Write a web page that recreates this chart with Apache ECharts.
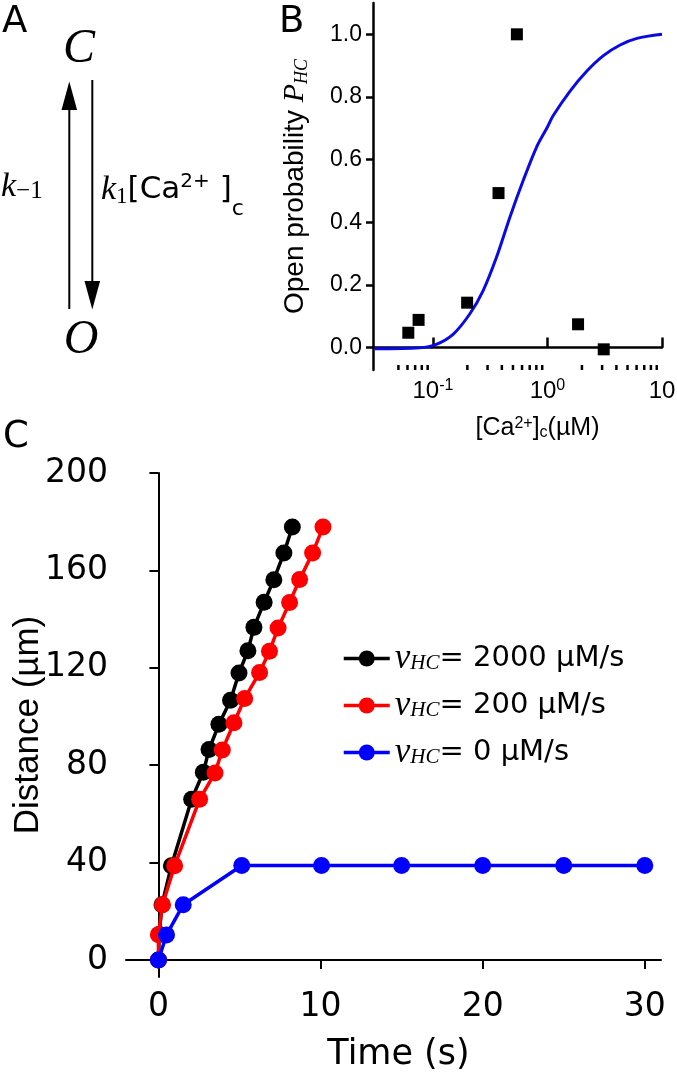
<!DOCTYPE html>
<html>
<head>
<meta charset="utf-8">
<script src="https://cdn.jsdelivr.net/npm/echarts@6/dist/echarts.min.js"></script>
<style>
  html, body { margin: 0; padding: 0; background: #fff; }
  #chart { width: 677px; height: 1081px; }
</style>
</head>
<body>
<div id="chart"></div>
<script>
// ---- panel B: open probability vs [Ca2+]c ----
var caConc   = [0.061, 0.075, 0.199, 0.374, 0.541, 1.85, 3.10];
var openProb = [0.047, 0.088, 0.143, 0.493, 1.0, 0.074, -0.006];
// fitted curve
var fitCa = [0.0309, 0.0765, 0.107, 0.150, 0.209, 0.274, 0.359, 0.470, 0.614, 0.804, 1.0, 1.12, 1.57, 2.20, 3.08, 4.31, 6.04, 10];
var fitP  = [-0.004, -0.001, 0.010, 0.042, 0.106, 0.181, 0.288, 0.416, 0.533, 0.640, 0.704, 0.740, 0.818, 0.882, 0.932, 0.966, 0.987, 1.0];
var caMinor = [0.05, 0.06, 0.07, 0.08, 0.09, 0.2, 0.3, 0.4, 0.5, 0.6, 0.7, 0.8, 0.9, 2, 3, 4, 5, 6, 7, 8, 9];
var probTicks = [0, 0.2, 0.4, 0.6, 0.8, 1.0];
var probMin = -0.072, probMax = 1.1;

// ---- panel C: distance vs time ----
var time2000 = [0, 0.05, 0.22, 0.80, 2.05, 2.77, 3.12, 3.73, 4.45, 4.97, 5.52, 5.89, 6.52, 7.12, 7.74, 8.26];
var dist2000 = [0, 10.5, 22.7, 38.7, 66.0, 77.1, 86.4, 96.8, 106.7, 117.9, 127.0, 136.6, 146.9, 156.2, 167.1, 177.8];
var time200 = [0, 0, 0.25, 1.0, 2.54, 3.49, 3.94, 4.66, 5.32, 6.24, 6.85, 7.38, 8.09, 8.71, 9.51, 10.15];
var dist200 = [0, 10.4, 22.7, 38.7, 66.0, 76.8, 86.2, 97.4, 107.4, 118.1, 126.8, 136.3, 146.8, 156.3, 167.1, 177.8];
var time0 = [0, 0.5, 1.53, 5.14, 10.06, 15, 20, 25, 30];
var dist0 = [0, 10.3, 22.7, 38.8, 38.8, 38.8, 38.8, 38.8, 38.8];
var timeTicks = [0, 10, 20, 30];
var distTicks = [0, 40, 80, 120, 160, 200];
var legendText = {
  v2000: '{v|v}{s|HC}{t|= 2000 µM/s}',
  v200: '{v|v}{s|HC}{t|= 200 µM/s}',
  v0: '{v|v}{s|HC}{t|= 0 µM/s}'
};

var SANS = 'Liberation Sans';
var WIDE = 'DejaVu Sans';
var SERIF = 'Liberation Serif';

function pairs(xs, ys) {
  return xs.map(function (x, i) { return [x, ys[i]]; });
}

function caLabel(v) {
  if (Math.abs(v - 0.1) < 1e-6) return '{b|10}{s|-1}';
  if (Math.abs(v - 1) < 1e-6) return '{b|10}{s|0}';
  if (Math.abs(v - 10) < 1e-4) return '{b|10}';
  return '';
}

function dotSeries(name, color, xs, ys, idx) {
  return {
    name: name,
    type: 'line',
    xAxisIndex: 1,
    yAxisIndex: 1,
    data: pairs(xs, ys),
    symbol: 'circle',
    symbolSize: 17,
    showAllSymbol: true,
    color: color,
    lineStyle: { color: color, width: 3.5 },
    itemStyle: { color: color },
    z: 2 + idx
  };
}

var chart = echarts.init(document.getElementById('chart'));

var option = {
  animation: false,
  backgroundColor: '#fff',
  grid: [
    { left: 373, top: 3, right: 15, bottom: 711, outerBoundsMode: 'none', containLabel: false },
    { left: 126, top: 473, right: 16, bottom: 104, outerBoundsMode: 'none', containLabel: false }
  ],
  xAxis: [
    {
      type: 'log',
      gridIndex: 0,
      logBase: 10,
      min: 0.03,
      max: 10,
      name: '[Ca{sup|2+}]{sub|c}(µM)',
      nameLocation: 'middle',
      nameGap: 46,
      nameMoveOverlap: false,
      nameTextStyle: {
        color: '#000', fontFamily: SANS, fontSize: 25, padding: [0, 0, 0, 40],
        rich: {
          sup: { fontFamily: SANS, fontSize: 16, lineHeight: 14, verticalAlign: 'top' },
          sub: { fontFamily: SANS, fontSize: 16, lineHeight: 14, verticalAlign: 'bottom' }
        }
      },
      axisLine: { lineStyle: { color: '#000', width: 2.5 } },
      axisTick: { inside: true, length: 10, lineStyle: { color: '#000', width: 2.5 } },
      splitLine: { show: false },
      axisLabel: {
        showMinLabel: false,
        margin: 8,
        color: '#000',
        fontFamily: SANS,
        formatter: caLabel,
        rich: {
          b: { fontFamily: SANS, fontSize: 24, lineHeight: 26 },
          s: { fontFamily: SANS, fontSize: 16, lineHeight: 14, verticalAlign: 'top' }
        }
      }
    },
    {
      type: 'value',
      gridIndex: 1,
      min: -2,
      max: 31,
      name: 'Time (s)',
      nameLocation: 'middle',
      nameGap: 60,
      nameMoveOverlap: false,
      nameTextStyle: { color: '#000', fontFamily: WIDE, fontSize: 35, padding: [0, 0, 0, 10] },
      axisLine: { lineStyle: { color: '#000', width: 2 } },
      axisTick: { length: 9, lineStyle: { color: '#000', width: 2 }, customValues: timeTicks },
      axisLabel: { color: '#000', fontFamily: WIDE, fontSize: 33, margin: 14, customValues: timeTicks },
      splitLine: { show: false }
    }
  ],
  yAxis: [
    {
      type: 'value',
      gridIndex: 0,
      min: probMin,
      max: probMax,
      name: 'Open probability {p|P}{s|HC}',
      nameLocation: 'middle',
      nameGap: 62,
      nameMoveOverlap: false,
      nameTextStyle: {
        color: '#000', fontFamily: SANS, fontSize: 28,
        rich: {
          p: { fontFamily: SERIF, fontStyle: 'italic', fontSize: 30, lineHeight: 32 },
          s: { fontFamily: SERIF, fontStyle: 'italic', fontSize: 18, lineHeight: 14, verticalAlign: 'bottom' }
        }
      },
      axisLine: { lineStyle: { color: '#000', width: 2.5 } },
      axisTick: { length: 7, lineStyle: { color: '#000', width: 2.5 }, customValues: probTicks },
      axisLabel: {
        color: '#000', fontFamily: SANS, fontSize: 23, margin: 11, customValues: probTicks,
        formatter: function (v) { return v.toFixed(1); }
      },
      splitLine: { show: false }
    },
    {
      type: 'value',
      gridIndex: 1,
      min: -7,
      max: 200,
      name: 'Distance (µm)',
      nameLocation: 'middle',
      nameGap: 80,
      nameMoveOverlap: false,
      nameTextStyle: { color: '#000', fontFamily: SANS, fontSize: 35 },
      axisLine: { lineStyle: { color: '#000', width: 2 } },
      axisTick: { length: 9, lineStyle: { color: '#000', width: 2 }, customValues: distTicks },
      axisLabel: { color: '#000', fontFamily: WIDE, fontSize: 33, margin: 18, customValues: distTicks },
      splitLine: { show: false }
    }
  ],
  legend: {
    data: ['v2000', 'v200', 'v0'],
    orient: 'vertical',
    left: 337,
    top: 636,
    itemWidth: 46,
    itemHeight: 20,
    itemGap: 12,
    lineStyle: { width: 3.5 },
    formatter: function (name) { return legendText[name]; },
    textStyle: {
      color: '#000',
      rich: {
        v: { fontFamily: SERIF, fontStyle: 'italic', fontSize: 35, lineHeight: 30 },
        s: { fontFamily: SERIF, fontStyle: 'italic', fontSize: 21, lineHeight: 14, verticalAlign: 'bottom' },
        t: { fontFamily: WIDE, fontSize: 29, lineHeight: 30 }
      }
    }
  },
  series: [
    {
      name: 'fit',
      type: 'line',
      xAxisIndex: 0,
      yAxisIndex: 0,
      data: pairs(fitCa, fitP),
      smooth: 0.3,
      symbol: 'none',
      lineStyle: { color: '#0a0ae6', width: 3 },
      z: 2
    },
    {
      name: 'measured',
      type: 'scatter',
      xAxisIndex: 0,
      yAxisIndex: 0,
      data: pairs(caConc, openProb),
      symbol: 'rect',
      symbolSize: 12,
      itemStyle: { color: '#000', opacity: 1 },
      z: 3
    },
    {
      name: 'minorTicks',
      type: 'custom',
      xAxisIndex: 0,
      yAxisIndex: 0,
      silent: true,
      clip: false,
      data: caMinor.map(function (v) { return [v, probMin]; }),
      renderItem: function (params, api) {
        var p = api.coord([api.value(0), api.value(1)]);
        return {
          type: 'line',
          shape: { x1: p[0], y1: p[1], x2: p[0], y2: p[1] - 5 },
          style: { stroke: '#000', lineWidth: 2.5 }
        };
      },
      z: 4
    },
    dotSeries('v2000', '#000000', time2000, dist2000, 0),
    dotSeries('v200', '#ff0000', time200, dist200, 1),
    dotSeries('v0', '#0000ff', time0, dist0, 2)
  ],
  graphic: [
    { type: 'text', left: 2, top: 4, style: { text: 'A', font: '37px "DejaVu Sans"', fill: '#000' } },
    { type: 'text', left: 279, top: 4, style: { text: 'B', font: '37px "DejaVu Sans"', fill: '#000' } },
    { type: 'text', left: 3, top: 419, style: { text: 'C', font: '37px "DejaVu Sans"', fill: '#000' } },
    // kinetic scheme, panel A
    { type: 'text', x: 79, y: 49, style: { text: 'C', font: 'italic 48px "Liberation Serif"', fill: '#000', align: 'center', verticalAlign: 'middle' } },
    { type: 'text', x: 81, y: 340, style: { text: 'O', font: 'italic 48px "Liberation Serif"', fill: '#000', align: 'center', verticalAlign: 'middle' } },
    { type: 'line', shape: { x1: 69.3, y1: 309, x2: 69.3, y2: 105 }, style: { stroke: '#000', lineWidth: 2 } },
    { type: 'polygon', shape: { points: [[69.3, 81.5], [61.5, 110], [77.1, 110]] }, style: { fill: '#000' } },
    { type: 'line', shape: { x1: 92.3, y1: 80, x2: 92.3, y2: 285 }, style: { stroke: '#000', lineWidth: 2 } },
    { type: 'polygon', shape: { points: [[92.3, 309.5], [84.5, 281], [100.1, 281]] }, style: { fill: '#000' } },
    {
      type: 'text', x: 1, y: 187,
      style: {
        text: '{k|k}{s|−1}', verticalAlign: 'middle', fill: '#000',
        rich: {
          k: { fontFamily: SERIF, fontStyle: 'italic', fontSize: 34, lineHeight: 34 },
          s: { fontFamily: SERIF, fontSize: 25, lineHeight: 16, verticalAlign: 'bottom' }
        }
      }
    },
    {
      type: 'text', x: 101, y: 190,
      style: {
        text: '{k|k}{one|1}{ca|[Ca}{sup|2+}{br| ]}{c|c}', verticalAlign: 'middle', fill: '#000',
        rich: {
          k: { fontFamily: SERIF, fontStyle: 'italic', fontSize: 34, lineHeight: 36 },
          one: { fontFamily: SERIF, fontSize: 23, lineHeight: 18, verticalAlign: 'bottom' },
          ca: { fontFamily: WIDE, fontSize: 31, lineHeight: 36 },
          sup: { fontFamily: WIDE, fontSize: 20, lineHeight: 18, verticalAlign: 'top' },
          br: { fontFamily: WIDE, fontSize: 31, lineHeight: 36 },
          c: { fontFamily: WIDE, fontSize: 22, lineHeight: 14, verticalAlign: 'bottom', padding: [0, 0, -12, 0] }
        }
      }
    }
  ]
};

chart.setOption(option);
</script>
</body>
</html>
